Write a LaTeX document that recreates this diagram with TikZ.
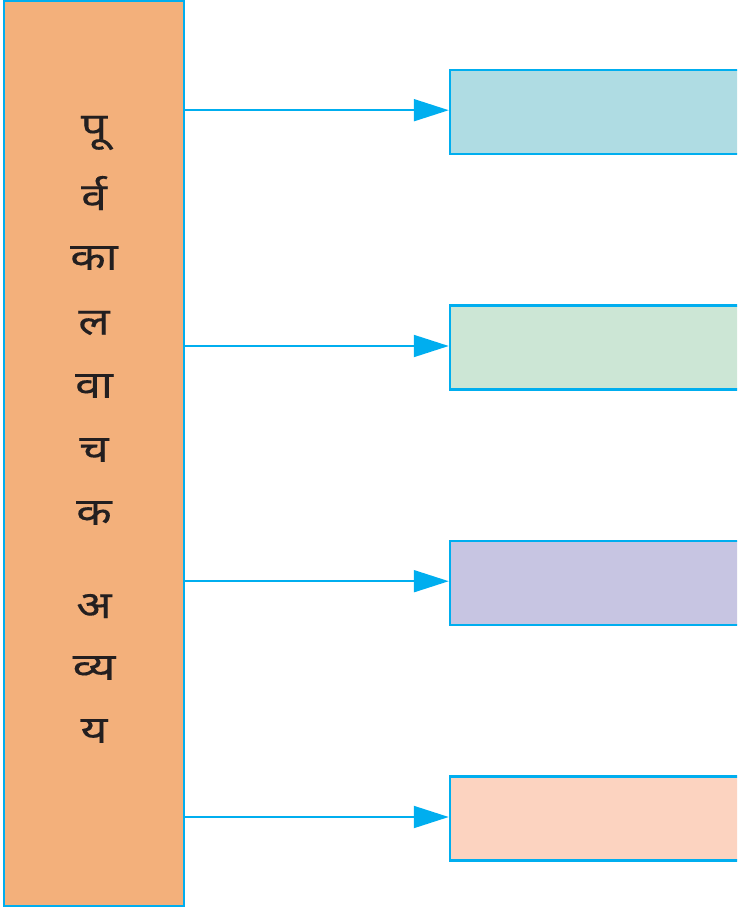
\documentclass[tikz,border=0pt]{standalone}
\usepackage{fontspec}
\newfontfamily\devfont[Script=Devanagari,FakeStretch=1.22,FakeBold=0.3]{Noto Sans}
\usetikzlibrary{arrows.meta}
\definecolor{bordercol}{HTML}{00AEEF}
\definecolor{mainfill}{HTML}{F3B07B}
\definecolor{fillA}{HTML}{AFDCE3}
\definecolor{fillB}{HTML}{CCE6D5}
\definecolor{fillC}{HTML}{C7C5E2}
\definecolor{fillD}{HTML}{FCD3C0}
\definecolor{txtcol}{HTML}{231F20}
\begin{document}
\begin{tikzpicture}[x=1pt,y=-1pt,
  mainbox/.style={draw=bordercol, line width=2.5pt, fill=mainfill, minimum width=180pt, minimum height=905pt, inner sep=0pt},
  rbox/.style={draw=bordercol, line width=2.5pt, minimum width=310pt, minimum height=84pt, inner sep=0pt},
  syl/.style={font=\devfont\fontsize{38}{42}\selectfont, text=txtcol, inner sep=0pt, anchor=center},
  arr/.style={draw=bordercol, line width=2pt, -{Triangle[length=35pt,width=22pt]}}]
\useasboundingbox (0,0) rectangle (737,912);
\clip (0,0) rectangle (737,912);
\node[mainbox] (main) at (94,453.5) {};
\node[rbox, fill=fillA] (b1) at (605,112) {};
\node[rbox, fill=fillB] (b2) at (605,347.5) {};
\node[rbox, fill=fillC] (b3) at (605,583) {};
\node[rbox, fill=fillD] (b4) at (605,818.5) {};
\coordinate (t1) at ([yshift=1.8pt]b1.west);
\coordinate (t2) at ([yshift=1.5pt]b2.west);
\coordinate (t3) at ([yshift=1.8pt]b3.west);
\coordinate (t4) at ([yshift=1.5pt]b4.west);
\draw[arr] (main.east |- t1) -- (t1);
\draw[arr] (main.east |- t2) -- (t2);
\draw[arr] (main.east |- t3) -- (t3);
\draw[arr] (main.east |- t4) -- (t4);
\node[syl] (s1) at (94,133) {पू};
\node[syl] (s2) at (94,193) {र्व};
\node[syl] (s3) at (94,258) {का};
\node[syl] (s4) at (94,323) {ल};
\node[syl] (s5) at (94,386) {वा};
\node[syl] (s6) at (94,450) {च};
\node[syl] (s7) at (94,513) {क};
\node[syl] (s8) at (94,606) {अ};
\node[syl] (s9) at (94,668) {व्य};
\node[syl] (s10) at (94,731) {य};
\end{tikzpicture}
\end{document}
